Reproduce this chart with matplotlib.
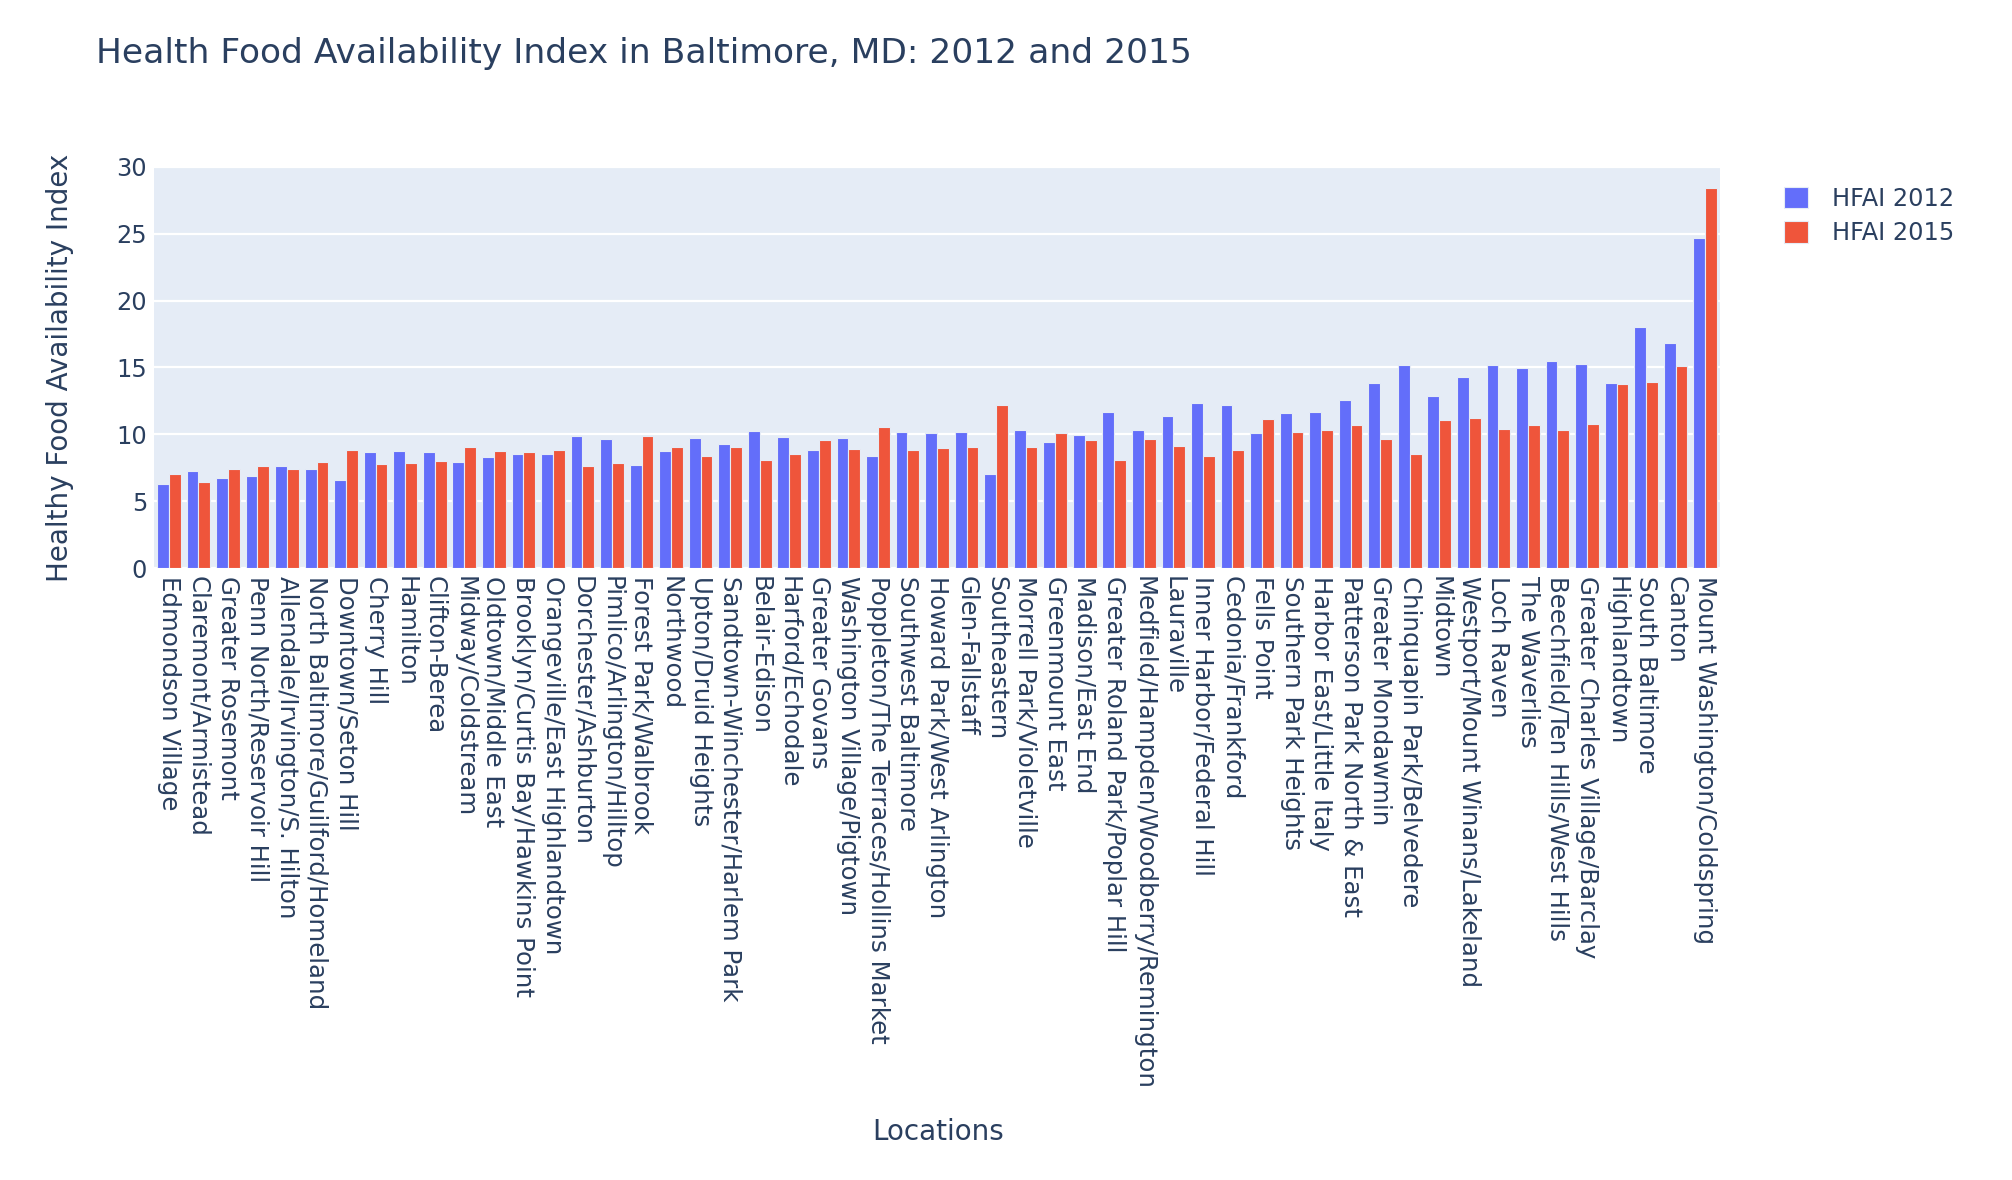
import numpy as np
from matplotlib import pyplot as plt

locations = [
    "Edmondson Village", "Claremont/Armistead", "Greater Rosemont",
    "Penn North/Reservoir Hill", "Allendale/Irvington/S. Hilton",
    "North Baltimore/Guilford/Homeland", "Downtown/Seton Hill", "Cherry Hill",
    "Hamilton", "Clifton-Berea", "Midway/Coldstream", "Oldtown/Middle East",
    "Brooklyn/Curtis Bay/Hawkins Point", "Orangeville/East Highlandtown",
    "Dorchester/Ashburton", "Pimlico/Arlington/Hilltop", "Forest Park/Walbrook",
    "Northwood", "Upton/Druid Heights", "Sandtown-Winchester/Harlem Park",
    "Belair-Edison", "Harford/Echodale", "Greater Govans",
    "Washington Village/Pigtown", "Poppleton/The Terraces/Hollins Market",
    "Southwest Baltimore", "Howard Park/West Arlington", "Glen-Fallstaff",
    "Southeastern", "Morrell Park/Violetville", "Greenmount East",
    "Madison/East End", "Greater Roland Park/Poplar Hill",
    "Medfield/Hampden/Woodberry/Remington", "Lauraville",
    "Inner Harbor/Federal Hill", "Cedonia/Frankford", "Fells Point",
    "Southern Park Heights", "Harbor East/Little Italy",
    "Patterson Park North & East", "Greater Mondawmin",
    "Chinquapin Park/Belvedere", "Midtown", "Westport/Mount Winans/Lakeland",
    "Loch Raven", "The Waverlies", "Beechfield/Ten Hills/West Hills",
    "Greater Charles Village/Barclay", "Highlandtown", "South Baltimore",
    "Canton", "Mount Washington/Coldspring",
]

hfai_2012 = [
    6.31, 7.23, 6.76, 6.91, 7.66, 7.43, 6.58, 8.68, 8.73, 8.68,
    7.91, 8.30, 8.50, 8.50, 9.88, 9.65, 7.73, 8.73, 9.70, 9.28,
    10.22, 9.80, 8.80, 9.70, 8.35, 10.15, 10.07, 10.17, 7.06, 10.32,
    9.45, 9.98, 11.65, 10.30, 11.40, 12.32, 12.22, 10.07, 11.62, 11.67,
    12.54, 13.87, 15.16, 12.89, 14.26, 15.21, 14.99, 15.49, 15.24, 13.84,
    18.00, 16.81, 24.66,
]

hfai_2015 = [
    7.06, 6.43, 7.41, 7.63, 7.41, 7.91, 8.83, 7.76, 7.86, 8.03,
    9.05, 8.78, 8.70, 8.85, 7.63, 7.88, 9.85, 9.03, 8.35, 9.03,
    8.10, 8.55, 9.55, 8.88, 10.57, 8.80, 8.95, 9.03, 12.22, 9.03,
    10.07, 9.60, 8.10, 9.63, 9.15, 8.40, 8.85, 11.15, 10.20, 10.30,
    10.70, 9.63, 8.55, 11.07, 11.22, 10.40, 10.70, 10.30, 10.77, 13.79,
    13.92, 15.09, 28.45,
]

text_color = '#2a3f5f'
plt.rcParams['font.family'] = ['DejaVu Sans']

fig = plt.figure(dpi=100, figsize=(20.12, 11.8))
ax = fig.add_axes([154 / 2012, 1 - 568 / 1180, (1720 - 154) / 2012, (568 - 167) / 1180])
ax.set_facecolor('#E5ECF6')

x = np.arange(len(locations))
w = 0.4
ax.bar(x - w / 2, hfai_2012, width=w, color='#636EFA', edgecolor='#E5ECF6',
       linewidth=0.8, label='HFAI 2012', zorder=3)
ax.bar(x + w / 2, hfai_2015, width=w, color='#EF553B', edgecolor='#E5ECF6',
       linewidth=0.8, label='HFAI 2015', zorder=3)

ax.set_xlim(-0.5, len(locations) - 0.5)
ax.set_ylim(0, 30)
ax.set_yticks([0, 5, 10, 15, 20, 25, 30])
ax.grid(axis='y', color='white', linewidth=1.6, zorder=1)
for s in ax.spines.values():
    s.set_visible(False)

ax.set_xticks(x)
ax.set_xticklabels(locations, rotation=-90, ha='center', va='top',
                   fontsize=17.6, color=text_color)
ax.tick_params(axis='x', length=0, pad=6)
ax.tick_params(axis='y', length=0, pad=5, labelsize=17.3, labelcolor=text_color)

# axis titles and chart title placed like the plotly layout
fig.text(60 / 2012, 1 - 368 / 1180, 'Healthy Food Availability Index', rotation=90,
         fontsize=20, color=text_color, ha='center', va='center')
fig.text(938 / 2012, 1 - 1132 / 1180, 'Locations', fontsize=20, color=text_color,
         ha='center', va='center')
fig.text(96 / 2012, 1 - 54 / 1180, 'Health Food Availability Index in Baltimore, MD: 2012 and 2015',
         fontsize=24.8, color=text_color, ha='left', va='center')

leg = fig.legend(loc='upper left', bbox_to_anchor=(1762 / 2012, 1 - 165 / 1180),
                 frameon=False, fontsize=17.3, handlelength=1.0, handleheight=1.0,
                 handletextpad=1.0, labelspacing=0.45)
for t in leg.get_texts():
    t.set_color(text_color)

fig.savefig('out.png', dpi=100, facecolor='white')
